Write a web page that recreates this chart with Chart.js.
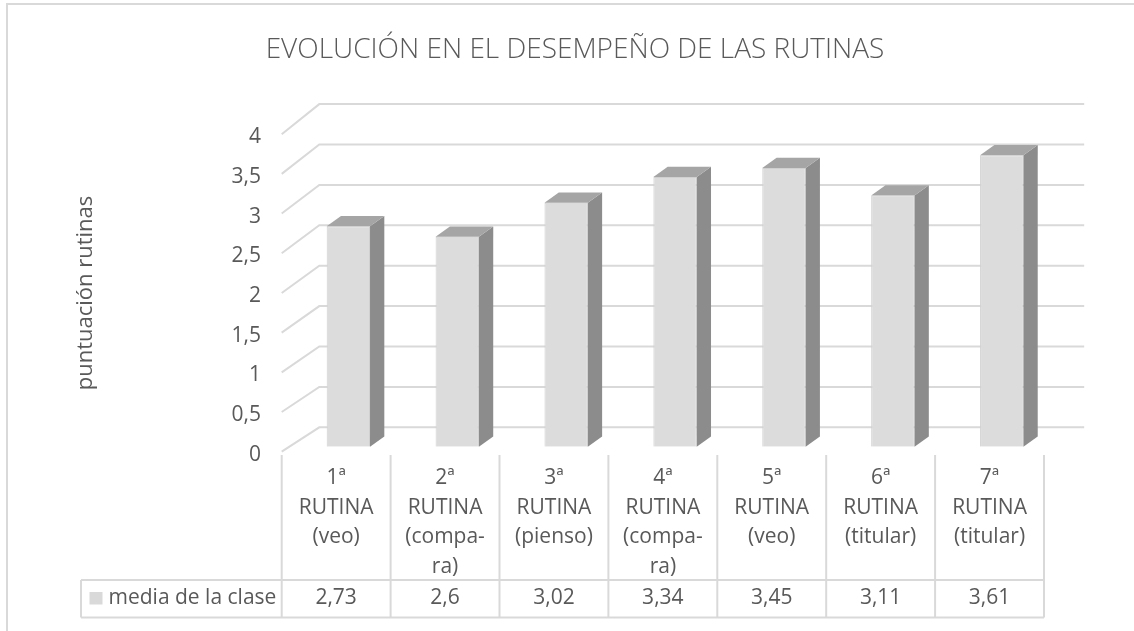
<!DOCTYPE html>
<html>
<head>
<meta charset="utf-8">
<script src="https://cdn.jsdelivr.net/npm/chart.js@4/dist/chart.umd.min.js"></script>
<style>
  html, body { margin: 0; padding: 0; background: #ffffff; }
  #wrap { width: 1134px; height: 631px; }
</style>
</head>
<body>
<div id="wrap"><canvas id="c" width="1134" height="631"></canvas></div>
<script>
// ---- data ----
const chartTitle = 'EVOLUCIÓN EN EL DESEMPEÑO DE LAS RUTINAS';
const yAxisTitle = 'puntuación rutinas';
const seriesName = 'media de la clase';
const categories = [
  ['1ª', 'RUTINA', '(veo)'],
  ['2ª', 'RUTINA', '(compa-', 'ra)'],
  ['3ª', 'RUTINA', '(pienso)'],
  ['4ª', 'RUTINA', '(compa-', 'ra)'],
  ['5ª', 'RUTINA', '(veo)'],
  ['6ª', 'RUTINA', '(titular)'],
  ['7ª', 'RUTINA', '(titular)']
];
const values = [2.73, 2.6, 3.02, 3.34, 3.45, 3.11, 3.61];
const valueLabels = ['2,73', '2,6', '3,02', '3,34', '3,45', '3,11', '3,61'];
const yMin = 0, yMax = 4, yStep = 0.5;

// ---- styling ----
const FONT = '"Open Sans", "DejaVu Sans", sans-serif';
const TEXT = '#595959';
const LINE = '#d9d9d9';
const DEPTH_X = 14.3, DEPTH_Y = -10.3;

const fmt = v => String(v).replace('.', ',');

const threeD = {
  id: 'threeD',
  beforeDatasetsDraw(chart) {
    const ctx = chart.ctx;
    const ca = chart.chartArea;
    const ys = chart.scales.y;
    const xs = chart.scales.x;
    ctx.save();

    // outer frame
    ctx.strokeStyle = LINE;
    ctx.lineWidth = 2;
    ctx.beginPath();
    ctx.moveTo(7, 640);
    ctx.lineTo(7, 4);
    ctx.lineTo(1140, 4);
    ctx.stroke();

    // title
    ctx.fillStyle = TEXT;
    ctx.font = '300 28px ' + FONT;
    ctx.textAlign = 'center';
    ctx.textBaseline = 'alphabetic';
    ctx.fillText(chartTitle, 575, 58);

    // back wall gridlines + side diagonals
    const backL = ca.left + 25.4, backR = ca.right + 28;
    const frontX = ca.left - 12.2;
    ctx.strokeStyle = LINE;
    ctx.lineWidth = 2;
    ys.ticks.forEach(t => {
      const py = ys.getPixelForValue(t.value);
      const backY = ca.bottom - 19.4 + (py - ca.bottom) * 1.0006;
      const frontY = ca.bottom + 5 + (py - ca.bottom) * 0.983;
      ctx.beginPath();
      ctx.moveTo(frontX, frontY);
      ctx.lineTo(backL, backY);
      ctx.lineTo(backR, backY);
      ctx.stroke();
      // tick label
      ctx.fillStyle = TEXT;
      ctx.font = '21px ' + FONT;
      ctx.textAlign = 'right';
      ctx.textBaseline = 'middle';
      ctx.fillText(fmt(t.value), 261, frontY + 3);
    });

    // y axis title
    ctx.save();
    ctx.translate(86, 293);
    ctx.rotate(-Math.PI / 2);
    ctx.fillStyle = TEXT;
    ctx.font = '22px ' + FONT;
    ctx.textAlign = 'center';
    ctx.textBaseline = 'middle';
    ctx.fillText(yAxisTitle, 0, 0);
    ctx.restore();

    // data table
    const n = categories.length;
    const colW = xs.width / n;
    const tLeft = ca.left - 12.2;
    const tRight = tLeft + colW * n;
    const tTop = 455, rowTop = 580, rowBot = 617.5;
    ctx.strokeStyle = LINE;
    ctx.lineWidth = 2;
    ctx.beginPath();
    for (let i = 0; i <= n; i++) {
      const x = tLeft + colW * i;
      ctx.moveTo(x, tTop);
      ctx.lineTo(x, rowBot);
    }
    ctx.moveTo(81, rowTop); ctx.lineTo(tRight, rowTop);
    ctx.moveTo(81, rowBot); ctx.lineTo(tRight, rowBot);
    ctx.moveTo(81, rowTop); ctx.lineTo(81, rowBot);
    ctx.stroke();

    ctx.fillStyle = TEXT;
    ctx.font = '21px ' + FONT;
    ctx.textAlign = 'center';
    ctx.textBaseline = 'middle';
    categories.forEach((lines, i) => {
      const cx = tLeft + colW * (i + 0.5);
      lines.forEach((s, j) => ctx.fillText(s, cx, 478 + j * 29.7));
      ctx.fillText(valueLabels[i], cx, 598.5);
    });
    // legend key
    ctx.fillStyle = '#d9d9d9';
    ctx.fillRect(89.5, 592, 13, 12.5);
    ctx.fillStyle = TEXT;
    ctx.textAlign = 'left';
    ctx.fillText(seriesName, 108.5, 598.5);

    ctx.restore();
  },
  afterDatasetsDraw(chart) {
    const ctx = chart.ctx;
    const meta = chart.getDatasetMeta(0);
    ctx.save();
    meta.data.forEach(bar => {
      const p = bar.getProps(['x', 'y', 'base', 'width'], true);
      const l = p.x - p.width / 2, r = p.x + p.width / 2;
      // side face
      ctx.fillStyle = '#8c8c8c';
      ctx.beginPath();
      ctx.moveTo(r, p.y);
      ctx.lineTo(r + DEPTH_X, p.y + DEPTH_Y);
      ctx.lineTo(r + DEPTH_X, p.base + DEPTH_Y);
      ctx.lineTo(r, p.base);
      ctx.closePath();
      ctx.fill();
      // top face
      ctx.fillStyle = '#a5a5a5';
      ctx.beginPath();
      ctx.moveTo(l, p.y);
      ctx.lineTo(l + DEPTH_X, p.y + DEPTH_Y);
      ctx.lineTo(r + DEPTH_X, p.y + DEPTH_Y);
      ctx.lineTo(r, p.y);
      ctx.closePath();
      ctx.fill();
    });
    ctx.restore();
  }
};

new Chart(document.getElementById('c'), {
  type: 'bar',
  data: {
    labels: categories,
    datasets: [{
      label: seriesName,
      data: values,
      backgroundColor: '#dcdcdc',
      borderColor: '#d0d0d0',
      borderWidth: 1,
      barPercentage: 0.398,
      categoryPercentage: 1.0
    }]
  },
  options: {
    responsive: false,
    devicePixelRatio: 1,
    animation: false,
    layout: { padding: { left: 293.9, top: 123.7, right: 77.8, bottom: 184.3 } },
    plugins: { legend: { display: false }, title: { display: false }, tooltip: { enabled: false } },
    scales: {
      x: { display: false },
      y: { display: false, min: yMin, max: yMax, ticks: { stepSize: yStep } }
    }
  },
  plugins: [threeD]
});
</script>
</body>
</html>
